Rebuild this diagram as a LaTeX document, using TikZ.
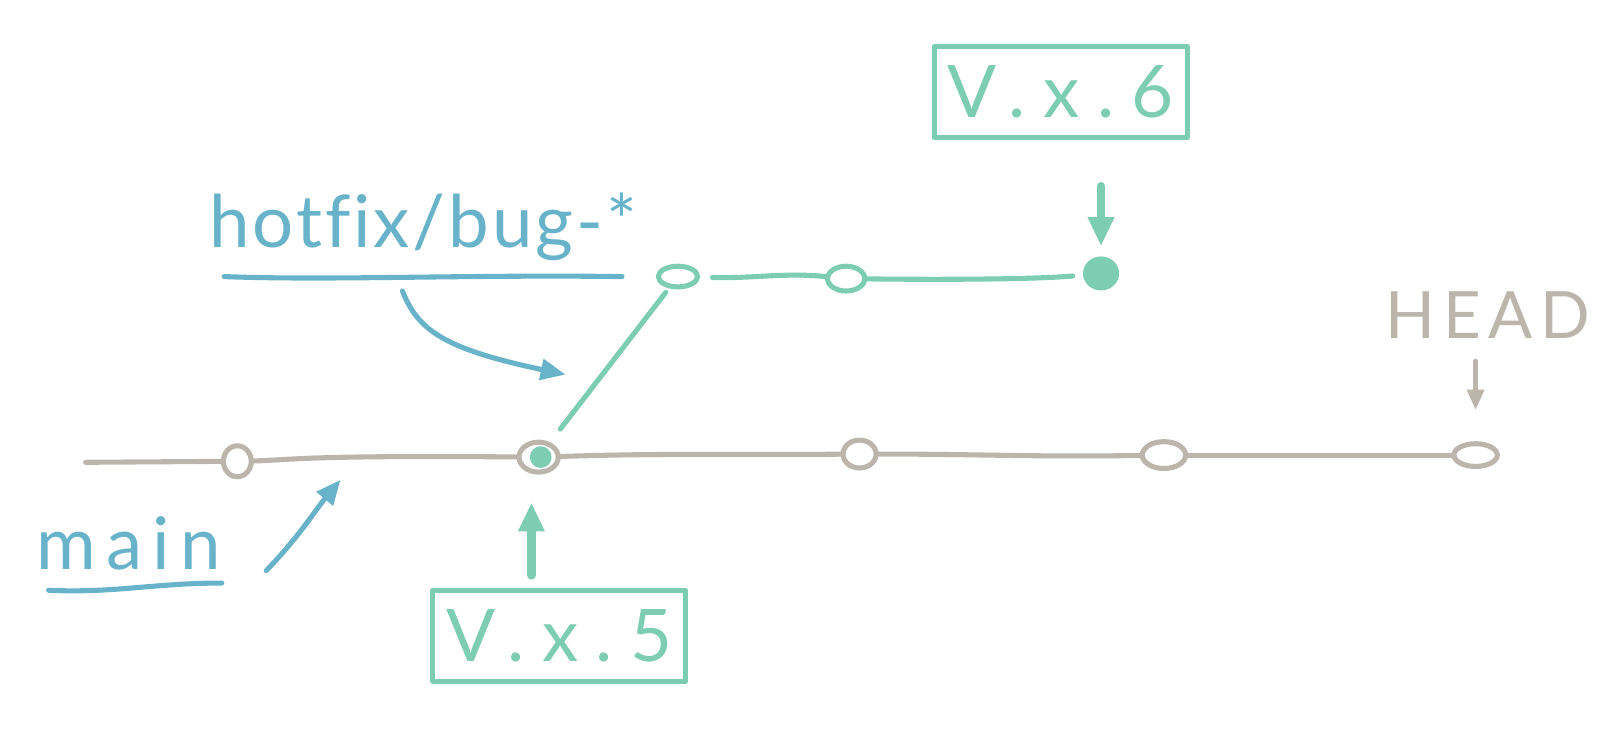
\documentclass[tikz,border=0pt]{standalone}
\usepackage{fontspec}
\setmainfont{Lato}[Ligatures=NoCommon]
\usetikzlibrary{arrows.meta,shapes.geometric,calc}
\definecolor{cgray}{HTML}{BCB5AC}
\definecolor{cteal}{HTML}{7DCDB3}
\definecolor{cblue}{HTML}{68B3C9}
\begin{document}
\begin{tikzpicture}[x=0.01cm,y=-0.01cm,line cap=round,line join=round,
  gline/.style={draw=cgray,line width=1.4pt},
  tline/.style={draw=cteal,line width=1.4pt},
  bline/.style={draw=cblue,line width=1.4pt},
  gcommit/.style={ellipse,draw=cgray,line width=1.4pt,inner sep=0pt,fill=white},
  tcommit/.style={ellipse,draw=cteal,line width=1.4pt,inner sep=0pt,fill=white},
  tagbox/.style={draw=cteal,line width=1.4pt,text=cteal,minimum width=2.45cm,minimum height=0.88cm,inner sep=0pt},
  tagarrow/.style={draw=cteal,line width=2.4pt,-{Triangle[length=0.28cm,width=0.24cm]}},
  barrow/.style={draw=cblue,line width=1.4pt,-{Triangle[length=0.24cm,width=0.2cm]}},
  garrow/.style={draw=cgray,line width=1.4pt,-{Triangle[length=0.2cm,width=0.16cm]}},
  lbl/.style={inner sep=0pt}]
\useasboundingbox (0,0) rectangle (1568,720);
% main line commits
\coordinate (m0) at (83,448);
\node[gcommit,minimum width=0.27cm,minimum height=0.3cm] (m1) at (230,447) {};
\node[gcommit,minimum width=0.38cm,minimum height=0.29cm] (m2) at (522,443) {};
\fill[cteal] ([xshift=0.02cm]m2.center) circle (0.105cm);
\node[gcommit,minimum width=0.32cm,minimum height=0.27cm] (m3) at (833,440) {};
\node[gcommit,minimum width=0.42cm,minimum height=0.26cm] (m4) at (1128,441) {};
\node[gcommit,minimum width=0.42cm,minimum height=0.22cm] (m5) at (1430,441) {};
\draw[gline] (m0) -- (m1);
\draw[gline] (m1) .. controls (280,446) and (290,441) .. (m2);
\draw[gline] (m2) .. controls (650,439) and (700,441) .. (m3);
\draw[gline] (m3) .. controls (950,440) and (1000,443) .. (m4);
\draw[gline] (m4) -- (m5);
% hotfix branch
\node[tcommit,minimum width=0.38cm,minimum height=0.2cm] (b1) at (657,268) {};
\node[tcommit,minimum width=0.36cm,minimum height=0.24cm] (b2) at (820,270) {};
\node[ellipse,fill=cteal,draw=cteal,line width=1.4pt,minimum width=0.3cm,minimum height=0.28cm,inner sep=0pt] (b3) at (1067,265) {};
\draw[tline,shorten <=0.16cm,shorten >=0.05cm] (m2) -- (b1);
\draw[tline,shorten <=0.12cm] (b1) .. controls (730,270) and (760,264) .. (b2);
\draw[tline,shorten >=0.1cm] (b2) .. controls (900,271) and (1000,271) .. (b3);
% tags
\node[tagbox] (v6) at (1028,89) {\fontsize{20pt}{24pt}\selectfont\addfontfeature{LetterSpace=24}V.x.6};
\node[tagbox] (v5) at (542,616) {\fontsize{20pt}{24pt}\selectfont\addfontfeature{LetterSpace=24}V.x.5};
\draw[tagarrow] ([yshift=-0.45cm]v6.south -| b3) -- ([yshift=0.1cm]b3.north);
\draw[tagarrow] ([yshift=0.12cm]v5.north -| 515,0) -- ([yshift=-0.27cm]m2.south -| 515,0);
% hotfix label
\node[lbl,text=cblue,anchor=base] (hf) at (410,240) {\fontsize{20pt}{24pt}\selectfont\addfontfeature{LetterSpace=4}hotfix/bug-*};
\draw[bline] ([xshift=0.15cm,yshift=-0.28cm]hf.base west) .. controls (320,272) and (450,266) .. ([xshift=-0.15cm,yshift=-0.28cm]hf.base east);
\coordinate (hfto) at (548,363);
\draw[barrow] (390,282) .. controls (405,320) and (430,338) .. (hfto);
% main label
\node[lbl,text=cblue,anchor=base] (mn) at (125,552) {\fontsize{20pt}{24pt}\selectfont\addfontfeature{LetterSpace=14}main};
\draw[bline] ([xshift=0.12cm,yshift=-0.2cm]mn.base west) .. controls (110,575) and (150,565) .. ([yshift=-0.13cm]mn.base east);
\coordinate (mnto) at (330,465);
\draw[barrow] (258,553) .. controls (290,520) and (305,495) .. (mnto);
% HEAD label
\node[lbl,text=cgray,anchor=base] (hd) at (1442,328) {\fontsize{18pt}{22pt}\selectfont\addfontfeature{LetterSpace=12}HEAD};
\draw[garrow] ([yshift=-0.22cm]hd.base -| m5) -- ([yshift=0.3cm]m5.north);
\end{tikzpicture}
\end{document}
